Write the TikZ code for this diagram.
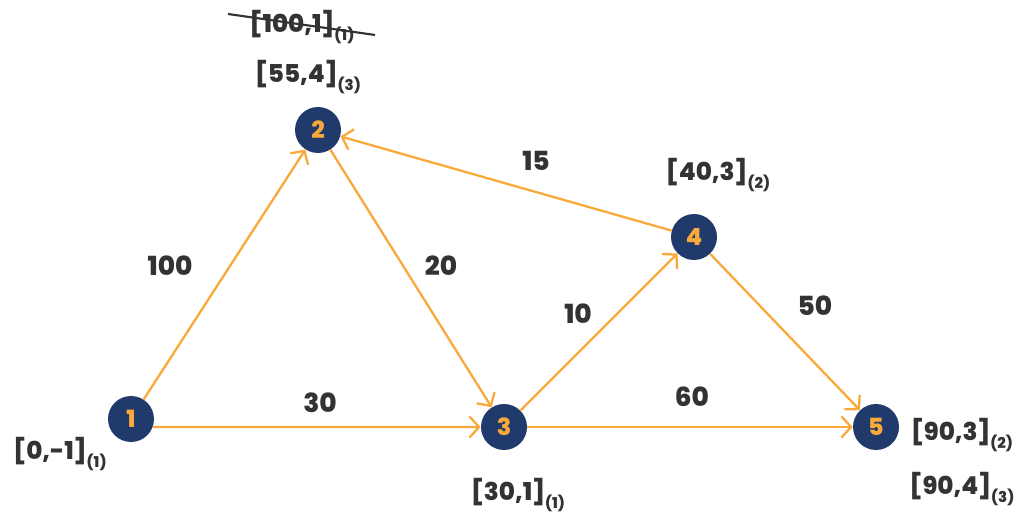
\documentclass[tikz,border=0pt]{standalone}
\usepackage{fontspec}
\setmainfont{Poppins}[UprightFont=* ExtraBold,BoldFont=* ExtraBold]
\usetikzlibrary{arrows.meta}
\definecolor{navy}{HTML}{1F3A6B}
\definecolor{orng}{HTML}{F9A83A}
\definecolor{txt}{HTML}{333333}
\newcommand{\lbl}[2]{#1\raisebox{-0.55ex}{\fontsize{8.5}{9}\selectfont #2}}
\begin{document}
\begin{tikzpicture}[x=0.02cm,y=-0.02cm,
  vert/.style={circle,fill=navy,minimum size=0.92cm,inner sep=0pt,text=orng,font=\fontsize{13.5}{14}\selectfont},
  edge/.style={draw=orng,line width=1.3pt,-{Straight Barb[length=5.5pt,width=12pt,line width=1.3pt]}},
  wt/.style={text=txt,font=\fontsize{15}{16}\selectfont},
  tag/.style={text=txt,font=\fontsize{14}{16}\selectfont,inner sep=0pt}]
\useasboundingbox (0,0) rectangle (1027,519);
\node[vert] (n1) at (131,419) {1};
\node[vert] (n2) at (318,130) {2};
\node[vert] (n3) at (504,427) {3};
\node[vert] (n4) at (694,237) {4};
\node[vert] (n5) at (876,427) {5};
\draw[edge] (n1) -- (n2);
\draw[edge] (n1.-20) -- (n3.west);
\draw[edge] (n2) -- (n3);
\draw[edge] (n3) -- (n4);
\draw[edge] (n4) -- (n2);
\draw[edge] (n3) -- (n5);
\draw[edge] (n4) -- (n5);
\node[wt] (w12) at (170,266) {100};
\node[wt] (w13) at (320,403) {30};
\node[wt] (w23) at (441,266) {20};
\node[wt] (w42) at (536,161) {15};
\node[wt] (w34) at (578,314) {10};
\node[wt] (w35) at (692,397) {60};
\node[wt] (w45) at (815,306) {50};
\node[tag] (t2a) at (302,27) {\lbl{[100,1]}{(1)}};
\coordinate (s1) at (228,14);
\coordinate (s2) at (375,35);
\draw[txt,line width=1.2pt] (s1) -- (s2);
\node[tag] (t2b) at (308,77) {\lbl{[55,4]}{(3)}};
\node[tag] (t4) at (718,175) {\lbl{[40,3]}{(2)}};
\node[tag] (t1) at (60,454) {\lbl{[0,-1]}{(1)}};
\node[tag] (t3) at (518,495) {\lbl{[30,1]}{(1)}};
\node[tag] (t5a) at (962,435) {\lbl{[90,3]}{(2)}};
\node[tag] (t5b) at (962,489) {\lbl{[90,4]}{(3)}};
\end{tikzpicture}
\end{document}
